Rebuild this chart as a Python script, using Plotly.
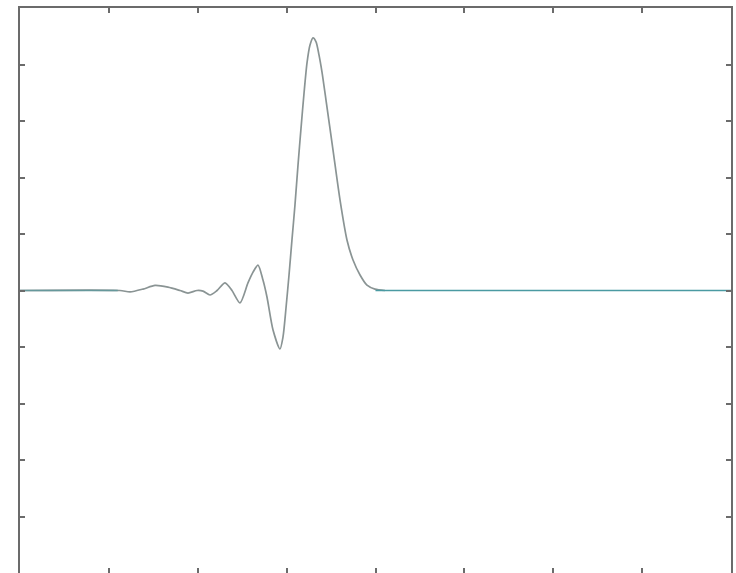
import plotly.graph_objects as go

# Signal samples (time, amplitude)
t = [0.0, 1.125, 1.238, 1.384, 1.519, 1.665, 1.800, 1.890, 1.992, 2.059,
     2.138, 2.217, 2.307, 2.385, 2.475, 2.565, 2.622, 2.678, 2.734, 2.779,
     2.847, 2.925, 2.959, 2.993, 3.027, 3.060, 3.094, 3.128, 3.162, 3.196,
     3.229, 3.263, 3.297, 3.331, 3.364, 3.398, 3.443, 3.522, 3.601, 3.679,
     3.747, 3.826, 3.904, 3.994, 4.107]
amp = [0.0, 0.0, -0.005, 0.005, 0.018, 0.012, 0.0, -0.009, 0.0, -0.002,
       -0.016, 0.0, 0.027, 0.0, -0.044, 0.027, 0.065, 0.090, 0.037, -0.023,
       -0.140, -0.207, -0.165, -0.062, 0.055, 0.179, 0.303, 0.444, 0.575, 0.699,
       0.805, 0.869, 0.894, 0.880, 0.834, 0.773, 0.674, 0.497, 0.320, 0.179,
       0.108, 0.055, 0.019, 0.005, 0.0]

# Flat tails of the trace (drawn teal in the picture)
left_t = [0.0, 1.1]
left_v = [0.0, 0.0]
right_t = [4.0, 8.0]
right_v = [0.0, 0.0]

x_range = [0, 8]
y_range = [-1, 1]

fig = go.Figure()
fig.add_trace(go.Scatter(x=t, y=amp, mode="lines",
                         line=dict(color="#8a9494", width=1.7, shape="spline", smoothing=0.7),
                         showlegend=False, hoverinfo="skip"))
fig.add_trace(go.Scatter(x=left_t, y=left_v, mode="lines",
                         line=dict(color="#66989b", width=1.7),
                         showlegend=False, hoverinfo="skip"))
fig.add_trace(go.Scatter(x=right_t, y=right_v, mode="lines",
                         line=dict(color="#4a9aa2", width=1.7),
                         showlegend=False, hoverinfo="skip"))

axis_common = dict(showgrid=False, zeroline=False, showline=True, mirror="ticks",
                   linecolor="#6b6b6b", linewidth=2, ticks="inside", ticklen=5,
                   tickcolor="#6b6b6b", tickwidth=1.5, showticklabels=False)

fig.update_layout(
    width=736, height=573, autosize=False,
    margin=dict(l=20, r=5, t=8, b=0),
    paper_bgcolor="white", plot_bgcolor="white",
    xaxis=dict(range=x_range, dtick=1, tick0=0, **axis_common),
    yaxis=dict(range=y_range, dtick=0.2, tick0=-1, **axis_common),
)

fig.write_html("out.html")
